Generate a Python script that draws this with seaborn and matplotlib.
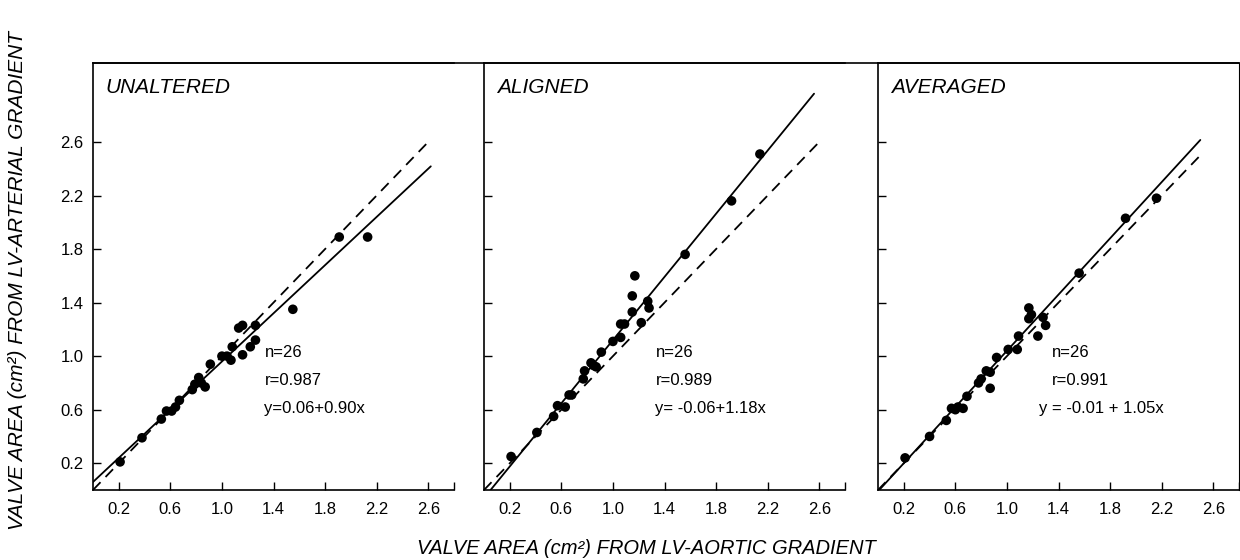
import seaborn as sns
import matplotlib.pyplot as plt
import numpy as np
import pandas as pd

# panel names and regression stats
panels = ['UNALTERED', 'ALIGNED', 'AVERAGED']
n_vals = [26, 26, 26]
r_vals = ['0.987', '0.989', '0.991']
eq_text = ['y=0.06+0.90x', 'y= -0.06+1.18x', 'y = -0.01 + 1.05x']
intercepts = [0.06, -0.06, -0.01]
slopes = [0.90, 1.18, 1.05]
fit_start = [0.0, 0.05, 0.01]
fit_end = [2.62, 2.56, 2.50]
ident_end = [2.59, 2.60, 2.52]

# LV-aortic (x) vs LV-arterial (y) valve areas
x_unaltered = [0.21, 0.38, 0.53, 0.57, 0.61, 0.64, 0.67, 0.77, 0.79, 0.82, 0.84, 0.87, 0.91,
               1.00, 1.04, 1.07, 1.08, 1.13, 1.16, 1.16, 1.22, 1.26, 1.26, 1.55, 1.91, 2.13]
y_unaltered = [0.21, 0.39, 0.53, 0.59, 0.59, 0.62, 0.67, 0.75, 0.79, 0.84, 0.80, 0.77, 0.94,
               1.00, 1.00, 0.97, 1.07, 1.21, 1.23, 1.01, 1.07, 1.12, 1.23, 1.35, 1.89, 1.89]

x_aligned = [0.21, 0.41, 0.54, 0.57, 0.63, 0.66, 0.68, 0.77, 0.78, 0.83, 0.85, 0.87, 0.91,
             1.00, 1.06, 1.06, 1.09, 1.15, 1.15, 1.17, 1.22, 1.27, 1.28, 1.56, 1.92, 2.14]
y_aligned = [0.25, 0.43, 0.55, 0.63, 0.62, 0.71, 0.71, 0.83, 0.89, 0.95, 0.93, 0.92, 1.03,
             1.11, 1.14, 1.24, 1.24, 1.33, 1.45, 1.60, 1.25, 1.41, 1.36, 1.76, 2.16, 2.51]

x_averaged = [0.21, 0.40, 0.53, 0.57, 0.60, 0.62, 0.66, 0.69, 0.78, 0.80, 0.84, 0.87, 0.87,
              0.92, 1.01, 1.08, 1.09, 1.17, 1.17, 1.19, 1.24, 1.28, 1.30, 1.56, 1.92, 2.16]
y_averaged = [0.24, 0.40, 0.52, 0.61, 0.60, 0.62, 0.61, 0.70, 0.80, 0.83, 0.89, 0.76, 0.88,
              0.99, 1.05, 1.05, 1.15, 1.36, 1.28, 1.31, 1.15, 1.29, 1.23, 1.62, 2.03, 2.18]

xs = [x_unaltered, x_aligned, x_averaged]
ys = [y_unaltered, y_aligned, y_averaged]

tick_vals = [0.2, 0.6, 1.0, 1.4, 1.8, 2.2, 2.6]

sns.set_style('ticks')
plt.rcParams['font.family'] = ['Liberation Sans', 'DejaVu Sans']
plt.rcParams['text.color'] = 'black'
plt.rcParams['xtick.color'] = 'black'
plt.rcParams['ytick.color'] = 'black'
plt.rcParams['xtick.direction'] = 'in'
plt.rcParams['ytick.direction'] = 'in'

fig = plt.figure(figsize=(12.4, 5.6), dpi=100)
W, H = 1240, 560
lefts = [93, 484, 878]
width = 361
top, bottom = 63, 490

for i in range(3):
    ax = fig.add_axes([lefts[i] / W, 1 - bottom / H, width / W, (bottom - top) / H])
    df = pd.DataFrame({'x': xs[i], 'y': ys[i]})
    sns.scatterplot(data=df, x='x', y='y', ax=ax, color='black', s=48, edgecolor='none', zorder=3)

    xf = np.array([fit_start[i], fit_end[i]])
    fit = pd.DataFrame({'x': xf, 'y': intercepts[i] + slopes[i] * xf})
    sns.lineplot(data=fit, x='x', y='y', ax=ax, color='black', lw=1.3)

    xi = np.array([0.0, ident_end[i]])
    ident = pd.DataFrame({'x': xi, 'y': xi})
    sns.lineplot(data=ident, x='x', y='y', ax=ax, color='black', lw=1.3, linestyle=(0, (6, 4)))

    ax.set_xlim(0, 2.8)
    ax.set_ylim(0, 3.19)
    ax.set_xticks(tick_vals)
    ax.set_yticks(tick_vals)
    ax.set_xticks([2.8], minor=True)
    ax.tick_params(which='both', length=6, width=1, color='black', labelsize=12, pad=7,
                   bottom=True, left=True, top=False, right=False)
    ax.tick_params(axis='x', pad=9)
    if i > 0:
        ax.set_yticklabels([])
    ax.set_xlabel('')
    ax.set_ylabel('')
    for side in ['left', 'bottom', 'top']:
        ax.spines[side].set_visible(True)
        ax.spines[side].set_color('black')
        ax.spines[side].set_linewidth(1.2)
    ax.spines['right'].set_visible(i == 2)
    ax.spines['right'].set_color('black')

    ax.text(0.035, 0.965, panels[i], transform=ax.transAxes, fontsize=15,
            style='italic', va='top', ha='left')
    tx = 1.33 if i != 2 else 1.35
    ax.text(tx, 1.03, 'n=' + str(n_vals[i]), fontsize=12, va='center')
    ax.text(tx, 0.82, 'r=' + r_vals[i], fontsize=12, va='center')
    ax.text(tx if i != 2 else 1.25, 0.61, eq_text[i], fontsize=12, va='center')

# continuous top rule across the panels
fig.add_artist(plt.Line2D([93 / W, 1239 / W], [1 - top / H, 1 - top / H], color='black', lw=1.2))

fig.text(646 / W, 1 - 548 / H, 'VALVE AREA (cm²) FROM LV-AORTIC GRADIENT', ha='center', va='center',
         fontsize=14.5, style='italic')
fig.text(18 / W, 1 - 280 / H, 'VALVE AREA (cm²) FROM LV-ARTERIAL GRADIENT', ha='center', va='center',
         rotation=90, fontsize=15, style='italic')

plt.savefig('out.png', dpi=100)
